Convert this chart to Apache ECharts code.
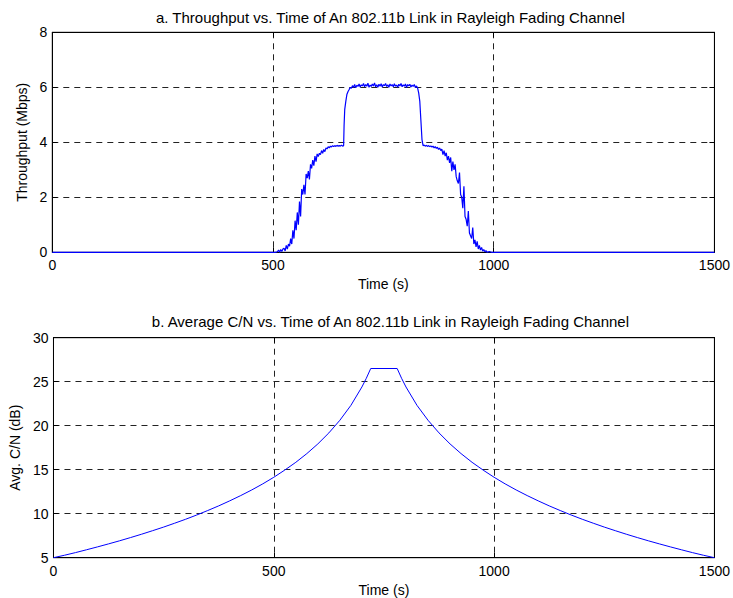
<!DOCTYPE html>
<html>
<head>
<meta charset="utf-8">
<script src="https://cdn.jsdelivr.net/npm/echarts@6/dist/echarts.min.js"></script>
<style>
html,body{margin:0;padding:0;background:#fff;}
#chart{width:733px;height:598px;}
</style>
</head>
<body>
<div id="chart"></div>
<script>
// ---------- data ----------
const titleA = 'a. Throughput vs. Time of An 802.11b Link in Rayleigh Fading Channel';
const titleB = 'b. Average C/N vs. Time of An 802.11b Link in Rayleigh Fading Channel';
const xTicks = [0, 500, 1000, 1500];
const yTicksA = [0, 2, 4, 6, 8];
const yTicksB = [5, 10, 15, 20, 25, 30];

// Throughput (Mbps) vs time (s)
const timeA = [
  0, 500, 505, 510, 512.5, 515, 517.5, 520, 522.5,
  525, 527.5, 530, 532.5, 535, 537.5, 540, 542.5, 545, 547.5, 550, 552.5, 555, 557.5,
  560, 562.5, 565, 567.5, 570, 572.5, 575, 577.5, 580, 582.5, 585, 587.5, 590, 592.5, 595, 597.5,
  600, 602.5, 605, 607.5, 610, 612.5, 615, 617.5,
  620, 622.5, 625, 627.5, 630, 632.5, 635, 637.5, 640, 642.5, 645, 647.5, 650, 652.5, 655, 657.5, 660, 661, 662.5, 665, 667.5,
  670, 672.5, 675, 677.5, 680, 682.5, 685, 687.5, 690, 692.5, 695, 697.5,
  700, 702.5, 705, 707.5, 710, 712.5, 715, 717.5, 720, 722.5, 725, 727.5, 730, 732.5, 735, 737.5, 740, 742.5, 745, 747.5,
  750, 752.5, 755, 757.5, 760, 762.5, 765, 767.5, 770, 772.5, 775, 777.5, 780, 782.5, 785, 787.5, 790, 792.5, 795, 797.5,
  800, 802.5, 805, 807.5, 810, 812.5, 815, 817.5, 820, 822.5, 825, 827.5,
  830, 832.5, 835, 837.5, 840, 842.5, 845, 847.5, 850, 852.5, 855, 857.5, 860, 862.5, 865, 867.5, 870, 872.5, 875, 877.5,
  880, 882.5, 885, 887.5, 890, 892.5, 895, 897.5, 900, 902.5, 905, 907.5, 910, 912.5, 915, 917.5, 920, 922.5, 925, 927.5,
  930, 932.5, 935, 937.5, 940, 942.5, 945, 947.5, 950, 952.5, 955, 957.5, 960, 962.5, 965, 967.5, 970, 972.5, 975, 977.5,
  980, 982.5, 985, 990, 995, 1000, 1500];
const thrA = [
  0, 0, 0, 0.02, 0.08, 0, 0.1, 0.03, 0.12,
  0.15, 0.05, 0.25, 0.12, 0.3, 0.22, 0.5, 0.3, 0.8, 0.5, 1.15, 0.8, 1.45, 1.0,
  1.85, 1.3, 2.3, 2.1, 2.45, 2.1, 2.85, 2.7, 2.95, 2.65, 3.2, 3.05, 3.35, 3.15, 3.5, 3.3,
  3.58, 3.48, 3.6, 3.55, 3.7, 3.6, 3.74, 3.66,
  3.8, 3.76, 3.84, 3.8, 3.86, 3.83, 3.88, 3.84, 3.88, 3.85, 3.89, 3.86, 3.88, 3.86, 3.9, 3.86, 3.88, 4.6, 5.2, 5.5, 5.75,
  5.85, 5.92, 6.0, 5.96, 6.06, 6.0, 6.1, 5.98, 6.08, 6.03, 6.12, 6.01,
  6.09, 6.05, 6.14, 6.02, 6.1, 6.04, 6.15, 6.0, 6.08, 6.03, 6.12, 6.05, 6.16, 6.02, 6.09, 6.0, 6.11, 6.04, 6.13, 6.01,
  6.1, 6.06, 6.14, 6.03, 6.09, 6.0, 6.12, 6.05, 6.1, 6.02, 6.13, 6.04, 6.08, 6.0, 6.11, 6.05, 6.14, 6.02, 6.09, 6.04,
  6.12, 5.99, 6.1, 6.05, 6.11, 6.01, 6.08, 6.03, 6.1, 5.99, 6.05, 5.98,
  5.8, 5.5, 4.8, 4.1, 3.88, 3.9, 3.86, 3.89, 3.85, 3.88, 3.84, 3.87, 3.83, 3.86, 3.8, 3.84, 3.78, 3.82, 3.74, 3.79,
  3.7, 3.75, 3.55, 3.7, 3.5, 3.62, 3.35, 3.5, 3.25, 3.45, 2.95, 3.3, 3.0, 3.2, 2.75, 2.6, 2.5, 2.9, 2.1, 2.0,
  1.6, 2.4, 1.3, 1.2, 0.95, 1.5, 0.7, 0.6, 0.5, 0.9, 0.3, 0.45, 0.2, 0.4, 0.12, 0.25, 0.08, 0.18, 0.04, 0.1,
  0.02, 0.06, 0, 0.03, 0, 0, 0];

// Average C/N (dB) vs time (s)
const timeB = [0, 25, 50, 75, 100, 125, 150, 175, 200, 225, 250, 275, 300, 325, 350, 375, 400, 425, 450, 475,
  500, 525, 550, 575, 600, 625, 650, 675, 700, 710, 720, 780, 790, 800, 825, 850, 875, 900, 925, 950, 975,
  1000, 1025, 1050, 1075, 1100, 1125, 1150, 1175, 1200, 1225, 1250, 1275, 1300, 1325, 1350, 1375, 1400, 1425, 1450, 1475, 1500];
const cnB = [5.0, 5.28, 5.58, 5.9, 6.23, 6.57, 6.92, 7.29, 7.67, 8.07, 8.48, 8.92, 9.37, 9.85, 10.36, 10.89, 11.46, 12.06, 12.7, 13.39,
  14.14, 14.96, 15.84, 16.83, 17.93, 19.18, 20.62, 22.31, 24.4, 25.39, 26.5, 26.5, 25.39, 24.4, 22.31, 20.62, 19.18, 17.93, 16.83, 15.84, 14.96,
  14.14, 13.39, 12.7, 12.06, 11.46, 10.89, 10.36, 9.85, 9.37, 8.92, 8.48, 8.07, 7.67, 7.29, 6.92, 6.57, 6.23, 5.9, 5.58, 5.28, 5.0];

// ---------- chart ----------
const FONT = 'Liberation Sans';
const FS = 14;
const FT = 15;
const grids = [
  {left: 52.3, top: 32.3, width: 666.2, height: 220},
  {left: 52.3, top: 337.7, width: 666.2, height: 220}
];
const dash = {color: '#222', type: [6, 5], width: 1};

function xAx(gi, pos, main) {
  return {
    type: 'value', gridIndex: gi, position: pos, min: xTicks[0], max: xTicks[xTicks.length - 1],
    interval: xTicks[1] - xTicks[0],
    name: main ? 'Time (s)' : '', nameLocation: 'middle', nameGap: 25,
    nameTextStyle: {fontFamily: FONT, fontSize: FS, color: '#000'},
    axisLine: {show: true, onZero: false, lineStyle: {color: '#000', width: 1}},
    axisTick: {show: true, inside: true, length: 5, lineStyle: {color: '#000'}},
    axisLabel: {show: main, fontFamily: FONT, fontSize: FS, color: '#000', margin: 6,
                formatter: v => String(v)},
    splitLine: {show: main, lineStyle: dash}
  };
}
function yAx(gi, pos, main, ticks, name, gap) {
  return {
    type: 'value', gridIndex: gi, position: pos, min: ticks[0], max: ticks[ticks.length - 1],
    interval: ticks[1] - ticks[0],
    name: main ? name : '', nameLocation: 'middle', nameGap: gap, nameRotate: 90,
    nameTextStyle: {fontFamily: FONT, fontSize: FS, color: '#000'},
    axisLine: {show: true, onZero: false, lineStyle: {color: '#000', width: 1}},
    axisTick: {show: true, inside: true, length: 5, lineStyle: {color: '#000'}},
    axisLabel: {show: main, fontFamily: FONT, fontSize: FS, color: '#000', margin: 5,
                formatter: v => String(v)},
    splitLine: {show: main, lineStyle: dash}
  };
}

const chart = echarts.init(document.getElementById('chart'), null, {renderer: 'svg'});
chart.setOption({
  animation: false,
  backgroundColor: '#fff',
  textStyle: {fontFamily: FONT},
  title: [
    {text: titleA, left: 385.4, top: 5, textAlign: 'center',
     textStyle: {fontFamily: FONT, fontSize: FT, fontWeight: 'normal', color: '#000'}},
    {text: titleB, left: 385.4, top: 309, textAlign: 'center',
     textStyle: {fontFamily: FONT, fontSize: FT, fontWeight: 'normal', color: '#000'}}
  ],
  grid: grids.map(g => Object.assign({show: true, borderColor: '#000', borderWidth: 1, backgroundColor: 'transparent'}, g)),
  xAxis: [xAx(0, 'bottom', true), xAx(0, 'top', false), xAx(1, 'bottom', true), xAx(1, 'top', false)],
  yAxis: [
    yAx(0, 'left', true, yTicksA, 'Throughput (Mbps)', 20), yAx(0, 'right', false, yTicksA, '', 0),
    yAx(1, 'left', true, yTicksB, 'Avg. C/N (dB)', 28), yAx(1, 'right', false, yTicksB, '', 0)
  ],
  series: [
    {type: 'line', xAxisIndex: 0, yAxisIndex: 0, data: timeA.map((t, i) => [t, thrA[i]]),
     showSymbol: false, symbol: 'none', lineStyle: {color: '#0000ff', width: 1.2}, z: 5},
    {type: 'line', xAxisIndex: 2, yAxisIndex: 2, data: timeB.map((t, i) => [t, cnB[i]]),
     showSymbol: false, symbol: 'none', lineStyle: {color: '#0000ff', width: 1}, z: 5}
  ]
});
</script>
</body>
</html>
